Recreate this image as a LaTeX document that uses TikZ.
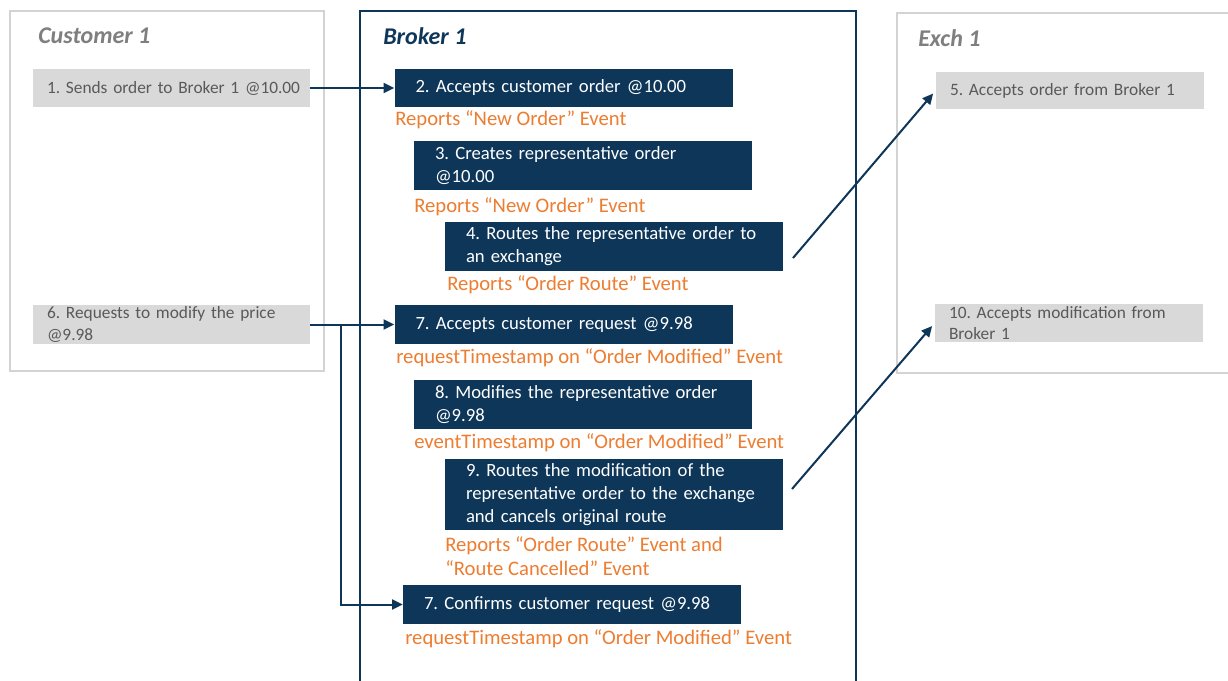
\documentclass[tikz,border=0pt]{standalone}
\usepackage{fontspec}
\setmainfont{Carlito}
\frenchspacing
\usetikzlibrary{arrows.meta}
\definecolor{navy}{RGB}{13,54,89}
\definecolor{orng}{HTML}{ED7D31}
\definecolor{gfill}{HTML}{D9D9D9}
\definecolor{gtext}{HTML}{595959}
\definecolor{ttitle}{HTML}{7F7F7F}
\definecolor{gframe}{HTML}{D3D3D3}
\tikzset{
  dbox/.style={draw=none, fill=navy, text=white, minimum width=253.5pt, text width=222pt,
    inner xsep=15.75pt, inner ysep=0pt, align=left, font=\fontsize{14}{17.25}\selectfont\frenchspacing},
  gbox/.style={draw=none, fill=gfill, text=gtext, inner xsep=10.5pt, inner ysep=0pt, align=left,
    font=\fontsize{13}{16}\selectfont\frenchspacing},
  olabel/.style={anchor=west, inner sep=0pt, text=orng, align=left, font=\fontsize{15.5}{18}\selectfont\frenchspacing},
  ttl/.style={anchor=west, inner sep=0pt, font=\fontsize{18}{20}\selectfont\bfseries\itshape},
  arr/.style={draw=navy, line width=1.5pt, -{Triangle[width=7.5pt,length=8pt]}},
}
\begin{document}
\begin{tikzpicture}[x=0.75pt,y=-0.75pt]
\useasboundingbox (0,0) rectangle (1228,681);
\clip (0,0) rectangle (1228,681);
\fill[white] (0,0) rectangle (1228,681);
% frames
\draw[gframe, line width=1.5pt] (10,11) rectangle (324,371);
\draw[navy, line width=1.5pt] (360,11) rectangle (856,700);
\draw[gframe, line width=1.5pt] (897,13) rectangle (1245,373);
% titles
\node[ttl, text=ttitle] (tc) at (38,36) {Customer 1};
\node[ttl, text=navy] (tb) at (383,36) {Broker 1};
\node[ttl, text=ttitle] (te) at (918,38) {Exch 1};
% customer
\node[gbox, minimum width=207.75pt, text width=186.75pt, minimum height=28.5pt] (c1) at (171.5,88) {\mbox{1. Sends order to Broker 1 @10.00}};
\node[gbox, minimum width=207.75pt, text width=186.75pt, minimum height=29.25pt] (c6) at (171.5,324.5) {6. Requests to modify the price\\@9.98};
% exchange
\node[gbox, minimum width=199.5pt, text width=180pt, minimum height=27.75pt] (e5) at (1070,90.5) {5. Accepts order from Broker 1};
\node[gbox, minimum width=199.5pt, text width=180pt, minimum height=28.5pt] (e10) at (1069,323) {10. Accepts modification from\\Broker 1};
% broker boxes
\node[dbox, minimum height=28.5pt] (b2) at (563.5,88) {2. Accepts customer order @10.00};
\node[olabel] (o2) at (395,120) {Reports “New Order” Event};
\node[dbox, minimum height=36.75pt] (b3) at (583,165.5) {3. Creates representative order\\@10.00};
\node[olabel] (o3) at (414,207) {Reports “New Order” Event};
\node[dbox, minimum height=36.75pt] (b4) at (614,246.5) {4. Routes the representative order to\\an exchange};
\node[olabel] (o4) at (447,285) {Reports “Order Route” Event};
\node[dbox, minimum height=29.25pt] (b7) at (563.5,324.5) {7. Accepts customer request @9.98};
\node[olabel] (o7) at (396,358) {requestTimestamp on “Order Modified” Event};
\node[dbox, minimum height=36.75pt] (b8) at (583,404.5) {8. Modifies the representative order\\@9.98};
\node[olabel] (o8) at (414,443) {eventTimestamp on “Order Modified” Event};
\node[dbox, minimum height=53.25pt] (b9) at (614,494.5) {9. Routes the modification of the\\representative order to the exchange\\and cancels original route};
\node[olabel] (o9) at (445,556) {Reports “Order Route” Event and\\“Route Cancelled” Event};
\node[dbox, minimum height=29.25pt] (b7b) at (572,604.5) {7. Confirms customer request @9.98};
\node[olabel] (o7b) at (405,639) {requestTimestamp on “Order Modified” Event};
% connectors
\coordinate (j) at (341,324.5);
\coordinate (b4o) at (793,258);
\coordinate (b9o) at (792,489);
\draw[arr] (c1.east) -- (b2.west);
\draw[arr] (c6.east) -- (b7.west);
\draw[arr] (j) |- (b7b.west);
\draw[arr, shorten >=3pt] (b4o) -- (e5.west);
\draw[arr, shorten >=3pt] (b9o) -- (e10.west);
\end{tikzpicture}
\end{document}
